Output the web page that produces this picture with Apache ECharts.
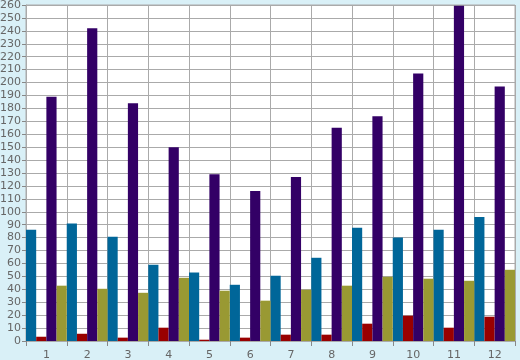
<!DOCTYPE html>
<html><head><meta charset="utf-8">
<script src="https://cdn.jsdelivr.net/npm/echarts@6/dist/echarts.min.js"></script>
<style>html,body{margin:0;padding:0;background:#d9f0f7;}#c{width:520px;height:360px;}</style>
</head><body><div id="c"></div>
<script>
const categories = ['1','2','3','4','5','6','7','8','9','10','11','12'];
const tealValues = [86, 91, 80.6, 59, 53, 43.5, 50.5, 64.4, 87.6, 80, 86, 96];
const redValues = [3.3, 5.6, 2.6, 10.3, 1, 2.6, 4.9, 4.9, 13.4, 19.6, 10.3, 18.8];
const purpleValues = [189, 242, 184, 150, 129, 116, 127, 165, 174, 207, 259.5, 197];
const oliveValues = [42.8, 40.4, 37.3, 48.9, 38.9, 31.2, 39.7, 42.8, 49.7, 48.2, 46.6, 55.1];

const chart = echarts.init(document.getElementById('c'), null, {renderer: 'canvas'});
const labelStyle = {color: '#666666', fontFamily: 'DejaVu Sans', fontSize: 11};
function bar(name, data, color) {
  return {name, type: 'bar', data, itemStyle: {color}, barGap: '0%', barCategoryGap: '0%', animation: false};
}
chart.setOption({
  backgroundColor: '#d9f0f7',
  animation: false,
  grid: {left: 26, right: 5, top: 5, bottom: 19, show: true, backgroundColor: '#ffffff', borderColor: '#aaaaaa', borderWidth: 1, containLabel: false, outerBoundsMode: 'none'},
  xAxis: {
    type: 'category', data: categories, boundaryGap: true,
    axisLine: {show: true, lineStyle: {color: '#aaaaaa'}},
    axisTick: {show: true, alignWithLabel: false, length: 5, lineStyle: {color: '#888888'}},
    axisLabel: Object.assign({margin: 9, interval: 0}, labelStyle),
    splitLine: {show: true, interval: 0, lineStyle: {color: '#aaaaaa', width: 1}}
  },
  yAxis: {
    type: 'value', min: 0, max: 260, interval: 10,
    axisLine: {show: true, lineStyle: {color: '#aaaaaa'}},
    axisTick: {show: true, length: 4, lineStyle: {color: '#888888'}},
    axisLabel: Object.assign({margin: 5}, labelStyle),
    splitLine: {show: true, lineStyle: {color: '#aaaaaa', width: 1}}
  },
  series: [
    bar('A', tealValues, '#006699'),
    bar('B', redValues, '#990000'),
    bar('C', purpleValues, '#330066'),
    bar('D', oliveValues, '#999933')
  ]
});
</script></body></html>
